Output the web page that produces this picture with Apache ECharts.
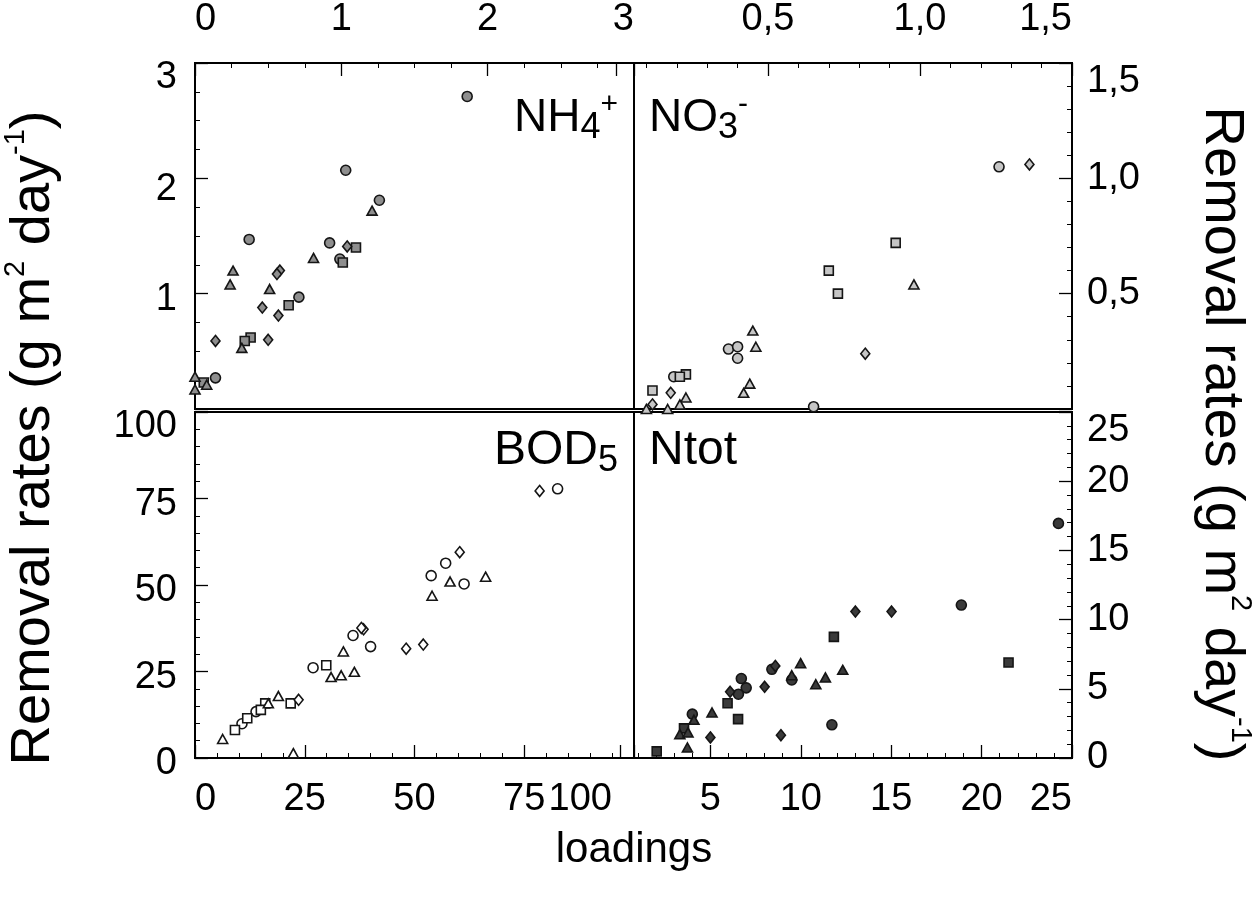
<!DOCTYPE html>
<html lang="en">
<head>
  <meta charset="UTF-8">
  <title>Removal rates vs loadings</title>
  <style>
    html, body { margin: 0; padding: 0; background: #fff; }
    #chart { width: 1254px; height: 897px; }
  </style>
  <script src="https://cdn.jsdelivr.net/npm/echarts@6/dist/echarts.min.js"></script>
</head>
<body>
  <div id="chart"></div>
  <script>
    // ---------------- data: [loading, removal rate] ----------------
    // NH4+ (top left)
    const nh4Circles = [[1.86, 2.71], [1.03, 2.07], [1.26, 1.81], [0.37, 1.47], [0.92, 1.44], [0.99, 1.30], [0.71, 0.97], [0.14, 0.27]];
    const nh4Squares = [[1.10, 1.40], [1.01, 1.27], [0.64, 0.90], [0.38, 0.62], [0.34, 0.59], [0.06, 0.23]];
    const nh4Triangles = [[1.21, 1.72], [0.81, 1.31], [0.26, 1.20], [0.24, 1.08], [0.51, 1.04], [0.32, 0.53], [0.0, 0.28], [0.0, 0.17], [0.08, 0.21]];
    const nh4Diamonds = [[0.58, 1.20], [0.56, 1.17], [0.46, 0.88], [0.57, 0.81], [0.14, 0.59], [0.50, 0.60], [1.04, 1.41]];

    // NO3- (top right)
    const no3Circles = [[1.26, 1.05], [0.37, 0.26], [0.40, 0.27], [0.40, 0.22], [0.19, 0.14], [0.65, 0.01]];
    const no3Squares = [[0.92, 0.72], [0.70, 0.60], [0.73, 0.50], [0.23, 0.15], [0.21, 0.14], [0.12, 0.08]];
    const no3Triangles = [[0.98, 0.54], [0.45, 0.34], [0.46, 0.27], [0.44, 0.11], [0.42, 0.07], [0.23, 0.05], [0.21, 0.02], [0.17, 0.0], [0.10, 0.0]];
    const no3Diamonds = [[1.36, 1.06], [0.82, 0.24], [0.18, 0.07], [0.12, 0.02]];

    // BOD5 (bottom left)
    const bodCircles = [[82.6, 77.8], [57.1, 56.3], [53.8, 52.7], [61.3, 50.3], [36.0, 35.4], [40.0, 32.2], [26.9, 26.1], [10.7, 9.9], [13.9, 13.4]];
    const bodSquares = [[29.9, 26.8], [21.8, 15.8], [9.1, 8.1], [11.9, 11.5], [16.0, 15.8], [15.0, 13.9]];
    const bodTriangles = [[66.2, 52.4], [58.1, 51.0], [54.0, 46.9], [33.8, 30.8], [36.3, 24.9], [31.0, 23.4], [33.3, 23.9], [19.0, 17.9], [16.7, 15.8], [6.3, 5.5], [22.4, 1.4]];
    const bodDiamonds = [[78.5, 77.2], [60.3, 59.5], [38.4, 37.2], [37.9, 37.6], [48.1, 31.6], [52.0, 32.8], [23.6, 16.8]];

    // Ntot (bottom right)
    const ntotCircles = [[24.25, 16.95], [18.88, 11.05], [11.72, 2.40], [9.50, 5.64], [8.40, 6.41], [6.71, 5.74], [6.98, 5.07], [6.55, 4.61], [4.0, 3.17]];
    const ntotSquares = [[11.83, 8.75], [21.49, 6.9], [5.95, 3.96], [6.53, 2.81], [3.54, 2.14], [2.03, 0.48]];
    const ntotTriangles = [[9.99, 6.85], [12.32, 6.37], [11.36, 5.82], [10.83, 5.33], [9.5, 5.98], [5.09, 3.29], [4.09, 2.76], [3.31, 1.72], [3.76, 1.85], [3.73, 0.76]];
    const ntotDiamonds = [[13.02, 10.58], [15.02, 10.58], [8.59, 6.65], [8.0, 5.14], [6.09, 4.78], [5.0, 1.49], [8.9, 1.65]];

    // ---------------- helpers ----------------
    const FONT = '"Liberation Sans", Arial, sans-serif';
    const comma = v => (v === 0 ? '' : v.toFixed(1).replace('.', ','));
    const noZero = v => (v === 0 ? '' : String(v));

    function axis(gridIndex, position, min, max, interval, minorSplit, labelOpts) {
      return {
        type: 'value',
        gridIndex: gridIndex,
        position: position,
        min: min,
        max: max,
        interval: interval,
        axisLine: { show: true, onZero: false, lineStyle: { color: '#000', width: 2 } },
        splitLine: { show: false },
        axisTick: { inside: true, length: 13, lineStyle: { color: '#000', width: 1.3 } },
        minorTick: { show: true, splitNumber: minorSplit, length: 5, lineStyle: { color: '#000', width: 1 } },
        axisLabel: Object.assign({ color: '#000', fontSize: 38, fontFamily: FONT }, labelOpts)
      };
    }

    function hidden(gridIndex) {
      return { type: 'value', gridIndex: gridIndex, show: false, min: 0, max: 1 };
    }

    function scatter(data, symbol, size, fill, xi, yi) {
      return {
        type: 'scatter',
        data: data,
        xAxisIndex: xi,
        yAxisIndex: yi,
        symbol: symbol,
        symbolSize: size,
        itemStyle: { color: fill, borderColor: '#151515', borderWidth: 1.6, opacity: 1 }
      };
    }

    function panel(circles, squares, triangles, diamonds, fill, idx) {
      return [
        scatter(circles, 'circle', 10, fill, idx, idx),
        scatter(squares, 'rect', 9, fill, idx, idx),
        scatter(triangles, 'triangle', [10, 9], fill, idx, idx),
        scatter(diamonds, 'diamond', [9, 11], fill, idx, idx)
      ];
    }

    function title(text, x, y, rotation) {
      return {
        type: 'text',
        x: x,
        y: y,
        rotation: rotation,
        style: {
          text: text,
          align: 'center',
          verticalAlign: 'middle',
          fill: '#000',
          rich: {
            t: { fontSize: 56, lineHeight: 66, fontFamily: FONT, fill: '#000' },
            sup: { fontSize: 29, lineHeight: 46, verticalAlign: 'top', fontFamily: FONT, fill: '#000' }
          }
        }
      };
    }

    function tag(text, x, y, align, size) {
      return {
        type: 'text',
        x: x,
        y: y,
        style: {
          text: text,
          align: align,
          verticalAlign: 'top',
          fill: '#000',
          rich: {
            n: { fontSize: size, lineHeight: 56, fontFamily: FONT, fill: '#000' },
            sub: { fontSize: 36, lineHeight: 36, verticalAlign: 'bottom', fontFamily: FONT, fill: '#000' },
            plus: { fontSize: 30, lineHeight: 46, verticalAlign: 'top', fontFamily: FONT, fill: '#000' },
            minus: { fontSize: 30, lineHeight: 30, verticalAlign: 'top', fontFamily: FONT, fill: '#000' }
          }
        }
      };
    }

    // left axis labels sit a little below their ticks in the reference
    const leftLabelRich = {
      hi: { fontSize: 38, lineHeight: 30, fontFamily: FONT, color: '#000' },
      mid: { fontSize: 38, lineHeight: 22, fontFamily: FONT, color: '#000' },
      lo: { fontSize: 38, lineHeight: 12, fontFamily: FONT, color: '#000' }
    };
    const nh4YLabel = v => (v === 0 ? '' : '{' + (v === 3 ? 'hi' : v === 2 ? 'mid' : 'lo') + '|' + v + '}');
    const bodYLabel = v => '{' + (v === 100 ? 'hi' : 'lo') + '|' + v + '}';
    // the last BOD5 loading label is pushed left against "75"
    const bodXLabel = v => (v === 100 ? '{end|100}' : String(v));
    const bodXRich = { end: { fontSize: 38, fontFamily: FONT, color: '#000', padding: [0, 22, 0, 0] } };

    const frame = { show: true, borderColor: '#000', borderWidth: 2, backgroundColor: 'transparent', outerBoundsMode: 'none' };

    const chart = echarts.init(document.getElementById('chart'), null, { renderer: 'canvas' });
    chart.setOption({
      animation: false,
      backgroundColor: '#fff',
      textStyle: { fontFamily: FONT },
      grid: [
        Object.assign({ left: 195, top: 63, width: 439, height: 346 }, frame),        // 0 NH4 (frame + data)
        { left: 616, top: 63, width: 456, height: 346, outerBoundsMode: 'none' },       // 1 NO3 data
        Object.assign({ left: 634, top: 63, width: 438, height: 346 }, frame),        // 2 NO3 frame
        Object.assign({ left: 195, top: 412, width: 439, height: 346 }, frame),       // 3 BOD5 (frame + data)
        { left: 620, top: 412, width: 452, height: 346, outerBoundsMode: 'none' },      // 4 Ntot data
        Object.assign({ left: 634, top: 412, width: 438, height: 346 }, frame)        // 5 Ntot frame
      ],
      xAxis: [
        axis(0, 'top', 0, 3, 1, 4, { margin: 24, alignMinLabel: 'left', alignMaxLabel: 'right' }),
        axis(1, 'top', 0, 1.5, 0.5, 5, { margin: 24, formatter: comma, alignMaxLabel: 'right' }),
        hidden(2),
        axis(3, 'bottom', 0, 100, 25, 5, { margin: 23, alignMinLabel: 'left', alignMaxLabel: 'right', formatter: bodXLabel, rich: bodXRich }),
        axis(4, 'bottom', 0, 25, 5, 5, { margin: 23, formatter: noZero, alignMaxLabel: 'right' }),
        hidden(5)
      ],
      yAxis: [
        axis(0, 'left', 0, 3, 1, 4, { margin: 18, formatter: nh4YLabel, verticalAlign: 'top', rich: leftLabelRich }),
        axis(1, 'right', 0, 1.5, 0.5, 5, { margin: 15, formatter: comma, verticalAlignMaxLabel: 'top' }),
        hidden(2),
        axis(3, 'left', 0, 100, 25, 5, { margin: 18, formatter: bodYLabel, verticalAlign: 'top', rich: leftLabelRich }),
        axis(4, 'right', 0, 25, 5, 5, { margin: 15, verticalAlignMaxLabel: 'top' }),
        hidden(5)
      ],
      series: [].concat(
        panel(nh4Circles, nh4Squares, nh4Triangles, nh4Diamonds, '#8e8e8e', 0),
        panel(no3Circles, no3Squares, no3Triangles, no3Diamonds, '#c6c6c6', 1),
        panel(bodCircles, bodSquares, bodTriangles, bodDiamonds, '#ffffff', 3),
        panel(ntotCircles, ntotSquares, ntotTriangles, ntotDiamonds, '#3a3a3a', 4)
      ),
      graphic: [
        title('{t|Removal rates (g m}{sup|2}{t| day}{sup|-1}{t|)}', 34, 438, Math.PI / 2),
        title('{t|Removal rates (g m}{sup|2}{t| day}{sup|-1}{t|)}', 1221, 434, -Math.PI / 2),
        { type: 'text', x: 634, y: 850, style: { text: 'loadings', align: 'center', verticalAlign: 'middle', fontSize: 42, fontFamily: FONT, fill: '#000' } },
        tag('{n|NH}{sub|4}{plus|+}', 618, 90, 'right', 46),
        tag('{n|NO}{sub|3}{minus|-}', 649, 90, 'left', 46),
        tag('{n|BOD}{sub|5}', 618, 423, 'right', 48),
        tag('{n|Ntot}', 649, 423, 'left', 48)
      ]
    });
  </script>
</body>
</html>
